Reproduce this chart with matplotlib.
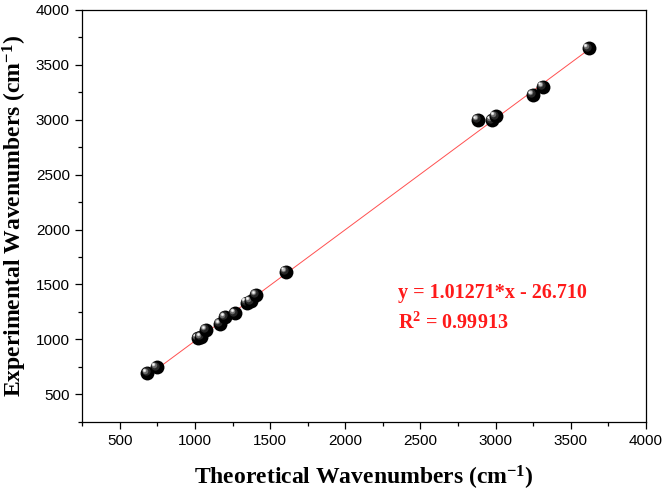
import numpy as np
import matplotlib
matplotlib.use('Agg')
import matplotlib.pyplot as plt
from matplotlib.transforms import offset_copy

# theoretical vs experimental wavenumbers (cm-1)
theoretical = [683, 745, 1018, 1040, 1074, 1167, 1200, 1267, 1344, 1370,
               1406, 1604, 2882, 2976, 3000, 3249, 3315, 3619]
experimental = [691, 745, 1010, 1020, 1085, 1140, 1201, 1237, 1334, 1345,
                1404, 1616, 2998, 2995, 3030, 3225, 3301, 3651]

slope = 1.01271
intercept = -26.710
r_squared = 0.99913

plt.rcParams['mathtext.fontset'] = 'custom'
plt.rcParams['mathtext.rm'] = 'Liberation Serif:bold'
plt.rcParams['mathtext.it'] = 'Liberation Serif:bold'
plt.rcParams['mathtext.bf'] = 'Liberation Serif:bold'

fig = plt.figure(figsize=(6.66, 4.95), dpi=100)
ax = fig.add_axes([0.1236, 0.1481, 0.846, 0.8317])

# fitted line
xf = np.array([min(theoretical), max(theoretical)])
ax.plot(xf, slope * xf + intercept, color='#ff5050', lw=0.7, zorder=2)

# shaded "sphere" markers
layers = [(10.0, '#000000', 0, 0),
          (6.0, '#262626', -1.3, 1.3),
          (4.0, '#6a6a6a', -1.9, 1.9),
          (2.6, '#c0c0c0', -2.3, 2.3),
          (1.4, '#f8f8f8', -2.5, 2.5)]
for xi, yi in zip(theoretical, experimental):
    for ms, col, dx, dy in layers:
        tr = offset_copy(ax.transData, fig=fig, x=dx, y=dy, units='points')
        ax.plot([xi], [yi], 'o', ms=ms, color=col, mec='none',
                transform=tr, zorder=3)

ax.set_xlim(250, 4000)
ax.set_ylim(250, 4000)
ax.set_xticks(np.arange(500, 4001, 500))
ax.set_yticks(np.arange(500, 4001, 500))
ax.set_xticks(np.arange(250, 4001, 250), minor=True)
ax.set_yticks(np.arange(250, 4001, 250), minor=True)
ax.tick_params(which='major', direction='out', length=5, width=0.9,
               labelsize=11, pad=4)
ax.tick_params(which='minor', direction='out', length=3, width=0.9)
for lab in ax.get_xticklabels() + ax.get_yticklabels():
    lab.set_fontfamily('Liberation Sans')
for sp in ax.spines.values():
    sp.set_linewidth(0.9)

lab_font = dict(family='Liberation Serif', weight='bold', size=17)
ax.set_xlabel(r'Theoretical Wavenumbers (cm$^{\mathrm{-1}}$)', labelpad=11, **lab_font)
ax.set_ylabel(r'Experimental Wavenumbers (cm$^{\mathrm{-1}}$)', labelpad=5, **lab_font)

txt_font = dict(family='Liberation Serif', weight='bold', size=14.5, color='#ff1a1a')
ax.text(0.560, 0.3126, 'y = %.5f*x - %.3f' % (slope, -intercept),
        transform=ax.transAxes, va='center', ha='left', **txt_font)
ax.text(0.560, 0.2397, r'R$^{\mathrm{2}}$ = %.5f' % r_squared,
        transform=ax.transAxes, va='center', ha='left', **txt_font)

fig.savefig('out.png', dpi=100)
